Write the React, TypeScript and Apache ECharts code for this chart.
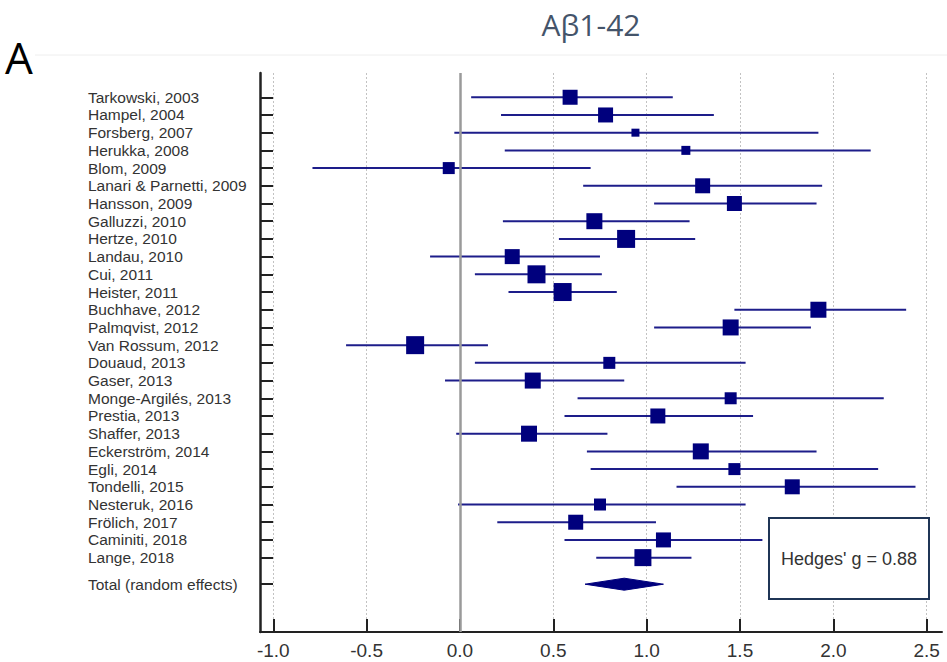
import React, { useEffect, useRef } from "react";
import * as echarts from "echarts";

const studies = [
  "Tarkowski, 2003", "Hampel, 2004", "Forsberg, 2007", "Herukka, 2008", "Blom, 2009",
  "Lanari & Parnetti, 2009", "Hansson, 2009", "Galluzzi, 2010", "Hertze, 2010", "Landau, 2010",
  "Cui, 2011", "Heister, 2011", "Buchhave, 2012", "Palmqvist, 2012", "Van Rossum, 2012",
  "Douaud, 2013", "Gaser, 2013", "Monge-Argilés, 2013", "Prestia, 2013", "Shaffer, 2013",
  "Eckerström, 2014", "Egli, 2014", "Tondelli, 2015", "Nesteruk, 2016", "Frölich, 2017",
  "Caminiti, 2018", "Lange, 2018",
];
const effects = [
  0.59, 0.78, 0.94, 1.21, -0.06, 1.30, 1.47, 0.72, 0.89, 0.28,
  0.41, 0.55, 1.92, 1.45, -0.24, 0.80, 0.39, 1.45, 1.06, 0.37,
  1.29, 1.47, 1.78, 0.75, 0.62, 1.09, 0.98,
];
const lowerCI = [
  0.06, 0.22, -0.03, 0.24, -0.79, 0.66, 1.04, 0.23, 0.53, -0.16,
  0.08, 0.26, 1.47, 1.04, -0.61, 0.08, -0.08, 0.63, 0.56, -0.02,
  0.68, 0.70, 1.16, -0.01, 0.20, 0.56, 0.73,
];
const upperCI = [
  1.14, 1.36, 1.92, 2.20, 0.70, 1.94, 1.91, 1.23, 1.26, 0.75,
  0.76, 0.84, 2.39, 1.88, 0.15, 1.53, 0.88, 2.27, 1.57, 0.79,
  1.91, 2.24, 2.44, 1.53, 1.05, 1.62, 1.24,
];
// marker size in px (study weight)
const markerSizes = [
  15, 15, 8, 9, 12, 15, 15, 16, 18, 15,
  18, 18, 16, 16, 18, 12, 16, 12, 15, 16,
  16, 12, 15, 12, 15, 15, 17,
];
const totalName = "Total (random effects)";
const totalEffect = 0.88;
const totalLower = 0.67;
const totalUpper = 1.09;
const xTicks = [-1.0, -0.5, 0.0, 0.5, 1.0, 1.5, 2.0, 2.5];
const titleText = "Aβ1-42";
const panelLetter = "A";
const summaryText = "Hedges' g = 0.88";

export default function App() {
  const ref = useRef<HTMLDivElement>(null);
  useEffect(() => {
    if (!ref.current) return;
    const chart = echarts.init(ref.current, undefined, { renderer: "svg" });
    const rowPos = studies.map((_, i) => i);
    const totalRow = studies.length + 0.5;
    const allRows = rowPos.concat([totalRow]);
    const allNames = studies.concat([totalName]);
    const nameOf = (v: number) => {
      const k = allRows.findIndex((r) => Math.abs(r - v) < 1e-6);
      return k >= 0 ? allNames[k] : "";
    };
    const lineColor = "#1d1d8a";
    const boxColor = "#00007d";

    chart.setOption({
      animation: false,
      grid: { left: 260, right: 5, top: 73, bottom: 30, containLabel: false },
      xAxis: {
        type: "value",
        position: "bottom",
        min: -1.071,
        max: 2.582,
        axisLine: { show: true, onZero: false, lineStyle: { color: "#222", width: 2 } },
        axisTick: {
          show: true,
          inside: true,
          length: 13,
          customValues: xTicks,
          lineStyle: { color: "#222", width: 2 },
        },
        axisLabel: {
          customValues: xTicks,
          formatter: (v: number) => v.toFixed(1),
          fontFamily: "Liberation Sans, Arial, sans-serif",
          fontSize: 19,
          color: "#333",
          margin: 9,
        },
        splitLine: {
          show: true,
          lineStyle: { color: "#c2c2c2", width: 1, type: [2, 2] },
        },
      },
      yAxis: {
        type: "value",
        position: "left",
        inverse: true,
        min: -1.37,
        max: 30.2,
        axisLine: { show: true, onZero: false, lineStyle: { color: "#222", width: 2.5 } },
        axisTick: {
          show: true,
          inside: true,
          length: 13,
          customValues: allRows,
          lineStyle: { color: "#222", width: 2 },
        },
        axisLabel: {
          customValues: allRows,
          formatter: (v: number) => nameOf(v),
          align: "left",
          margin: 172,
          fontFamily: "Liberation Sans, Arial, sans-serif",
          fontSize: 15.5,
          color: "#333",
        },
        splitLine: { show: false },
      },
      graphic: [
        {
          type: "text",
          x: 591,
          y: 24,
          style: {
            text: titleText,
            fontFamily: "Open Sans, sans-serif",
            fontSize: 30,
            fill: "#44546a",
            align: "center",
            verticalAlign: "middle",
          },
        },
        {
          type: "text",
          x: 5,
          y: 57,
          style: {
            text: panelLetter,
            fontFamily: "Open Sans, sans-serif",
            fontSize: 44,
            fill: "#000",
            align: "left",
            verticalAlign: "middle",
          },
        },
        {
          type: "line",
          shape: { x1: 35, y1: 55, x2: 947, y2: 55 },
          style: { stroke: "#eeeeee", lineWidth: 1 },
        },
        {
          type: "rect",
          shape: { x: 769, y: 518, width: 160, height: 81 },
          style: { fill: "#fff", stroke: "#1f3556", lineWidth: 2 },
          z: 10,
        },
        {
          type: "text",
          x: 849,
          y: 559,
          z: 11,
          style: {
            text: summaryText,
            fontFamily: "Liberation Sans, Arial, sans-serif",
            fontSize: 18,
            fill: "#333",
            align: "center",
            verticalAlign: "middle",
          },
        },
      ],
      series: [
        {
          type: "custom",
          name: "ci",
          data: studies.map((_, i) => [lowerCI[i], upperCI[i], i]),
          encode: { x: [0, 1], y: 2 },
          renderItem: (params: any, api: any) => {
            const p1 = api.coord([api.value(0), api.value(2)]);
            const p2 = api.coord([api.value(1), api.value(2)]);
            return {
              type: "line",
              shape: { x1: p1[0], y1: p1[1], x2: p2[0], y2: p2[1] },
              style: { stroke: lineColor, lineWidth: 2 },
            };
          },
          markLine: {
            silent: true,
            symbol: "none",
            label: { show: false },
            lineStyle: { color: "#9a9a9a", width: 2.5, type: "solid" },
            data: [{ xAxis: 0 }],
          },
          z: 2,
        },
        {
          type: "scatter",
          name: "effect",
          symbol: "rect",
          data: studies.map((_, i) => [effects[i], i, markerSizes[i]]),
          symbolSize: (val: number[]) => val[2],
          itemStyle: { color: boxColor, opacity: 1 },
          z: 3,
        },
        {
          type: "custom",
          name: "total",
          data: [[totalLower, totalEffect, totalUpper, totalRow]],
          encode: { x: [0, 1, 2], y: 3 },
          renderItem: (params: any, api: any) => {
            const row = api.value(3);
            const a = api.coord([api.value(0), row]);
            const c = api.coord([api.value(1), row]);
            const b = api.coord([api.value(2), row]);
            const h = 6;
            return {
              type: "polygon",
              shape: {
                points: [
                  [a[0], a[1]],
                  [c[0], c[1] - h],
                  [b[0], b[1]],
                  [c[0], c[1] + h],
                ],
              },
              style: { fill: boxColor, stroke: boxColor, lineWidth: 1 },
            };
          },
          z: 3,
        },
      ],
    });
    return () => chart.dispose();
  }, []);
  return (
    <div
      ref={ref}
      style={{ position: "fixed", left: 0, top: 0, width: 947, height: 662, background: "#fff" }}
    />
  );
}
